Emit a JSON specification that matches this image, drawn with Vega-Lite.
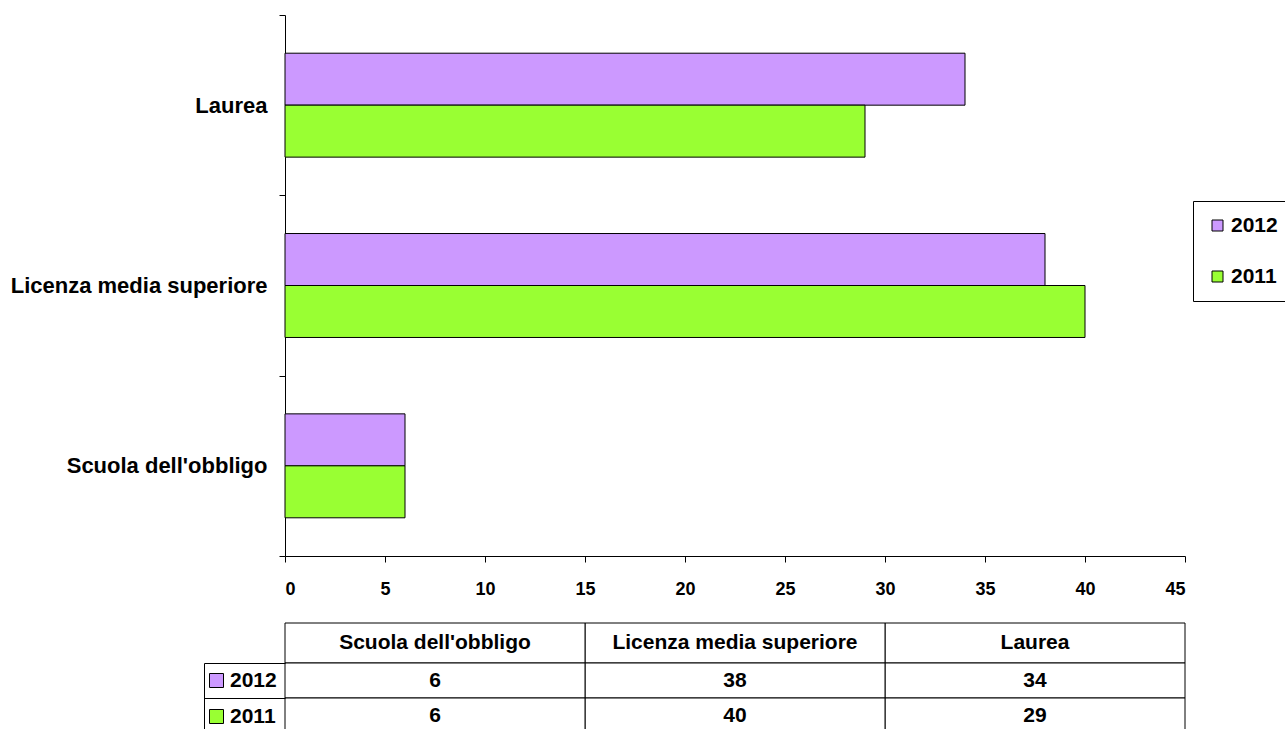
{
  "$schema": "https://vega.github.io/schema/vega-lite/v6.json",
  "background": "white",
  "padding": {"left": 10, "top": 4, "right": 0, "bottom": 0},
  "spacing": 67,
  "bounds": "flush",
  "config": {
    "font": "Liberation Sans",
    "view": {"stroke": null},
    "axis": {"labelFont": "Liberation Sans", "labelFontWeight": "bold", "labelColor": "black", "domainColor": "black", "tickColor": "black", "grid": false},
    "legend": {"labelFont": "Liberation Sans", "labelFontWeight": "bold", "labelColor": "black"}
  },
  "datasets": {
    "edu": [
      {"level": "Laurea", "year": "2012", "value": 34},
      {"level": "Laurea", "year": "2011", "value": 29},
      {"level": "Licenza media superiore", "year": "2012", "value": 38},
      {"level": "Licenza media superiore", "year": "2011", "value": 40},
      {"level": "Scuola dell'obbligo", "year": "2012", "value": 6},
      {"level": "Scuola dell'obbligo", "year": "2011", "value": 6}
    ]
  },
  "resolve": {"legend": {"color": "independent"}},
  "vconcat": [
    {
      "width": 900,
      "height": 541,
      "data": {"name": "edu"},
      "mark": {"type": "bar", "stroke": "black", "strokeWidth": 1},
      "encoding": {
        "y": {
          "field": "level", "type": "nominal",
          "sort": ["Laurea", "Licenza media superiore", "Scuola dell'obbligo"],
          "scale": {"paddingInner": 0, "paddingOuter": 0},
          "axis": {"title": null, "tickBand": "extent", "tickSize": 6, "labelPadding": 12, "labelFontSize": 22, "labelLimit": 400}
        },
        "yOffset": {
          "field": "year", "type": "nominal",
          "sort": ["2012", "2011"],
          "scale": {"paddingInner": 0, "paddingOuter": 0.735}
        },
        "x": {
          "field": "value", "type": "quantitative",
          "scale": {"domain": [0, 45], "nice": false},
          "axis": {"title": null, "values": [0, 5, 10, 15, 20, 25, 30, 35, 40, 45], "tickSize": 6, "labelPadding": 18, "labelFontSize": 18}
        },
        "color": {
          "field": "year", "type": "nominal",
          "scale": {"domain": ["2012", "2011"], "range": ["#CC99FF", "#99FF33"]},
          "legend": {
            "orient": "none", "legendX": 908, "legendY": 186, "title": null,
            "symbolType": "square", "symbolSize": 121, "symbolStrokeColor": "black", "symbolStrokeWidth": 1,
            "labelFontSize": 21, "labelOffset": 3, "strokeColor": "black", "padding": 14, "rowPadding": 29
          }
        }
      }
    },
    {
      "spacing": 0,
      "bounds": "flush",
      "vconcat": [
        {
          "width": 900,
          "height": 40,
          "data": {"name": "edu"},
          "transform": [{"filter": "datum.year == '2012'"}],
          "encoding": {
            "x": {
              "field": "level", "type": "nominal",
              "sort": ["Scuola dell'obbligo", "Licenza media superiore", "Laurea"],
              "scale": {"paddingInner": 0, "paddingOuter": 0},
              "axis": null
            }
          },
          "layer": [
            {"mark": {"type": "rect", "fill": "white", "stroke": "black", "strokeWidth": 1}},
            {"mark": {"type": "text", "fontSize": 21, "fontWeight": "bold", "color": "black", "baseline": "middle"}, "encoding": {"text": {"field": "level"}}}
          ]
        },
        {
          "width": 900,
          "height": 70,
          "data": {"name": "edu"},
          "encoding": {
            "x": {
              "field": "level", "type": "nominal",
              "sort": ["Scuola dell'obbligo", "Licenza media superiore", "Laurea"],
              "scale": {"paddingInner": 0, "paddingOuter": 0},
              "axis": null
            },
            "y": {
              "field": "year", "type": "nominal",
              "sort": ["2012", "2011"],
              "scale": {"paddingInner": 0, "paddingOuter": 0},
              "axis": {"title": null, "labels": false, "offset": 81, "tickSize": -81, "tickBand": "extent"}
            }
          },
          "layer": [
            {"mark": {"type": "rect", "fill": "white", "stroke": "black", "strokeWidth": 1}},
            {"mark": {"type": "text", "fontSize": 21, "fontWeight": "bold", "color": "black", "baseline": "middle"}, "encoding": {"text": {"field": "value", "type": "quantitative"}}},
            {
              "mark": {"type": "square", "opacity": 0},
              "encoding": {
                "color": {
                  "field": "year", "type": "nominal",
                  "scale": {"domain": ["2012", "2011"], "range": ["#CC99FF", "#99FF33"]},
                  "legend": {
                    "orient": "none", "legendX": -79, "legendY": 47, "title": null,
                    "symbolType": "square", "symbolSize": 196, "symbolOpacity": 1, "symbolStrokeColor": "black", "symbolStrokeWidth": 1,
                    "labelFontSize": 21, "labelOffset": 3, "padding": 0, "rowPadding": 14
                  }
                }
              }
            }
          ]
        }
      ]
    }
  ]
}
